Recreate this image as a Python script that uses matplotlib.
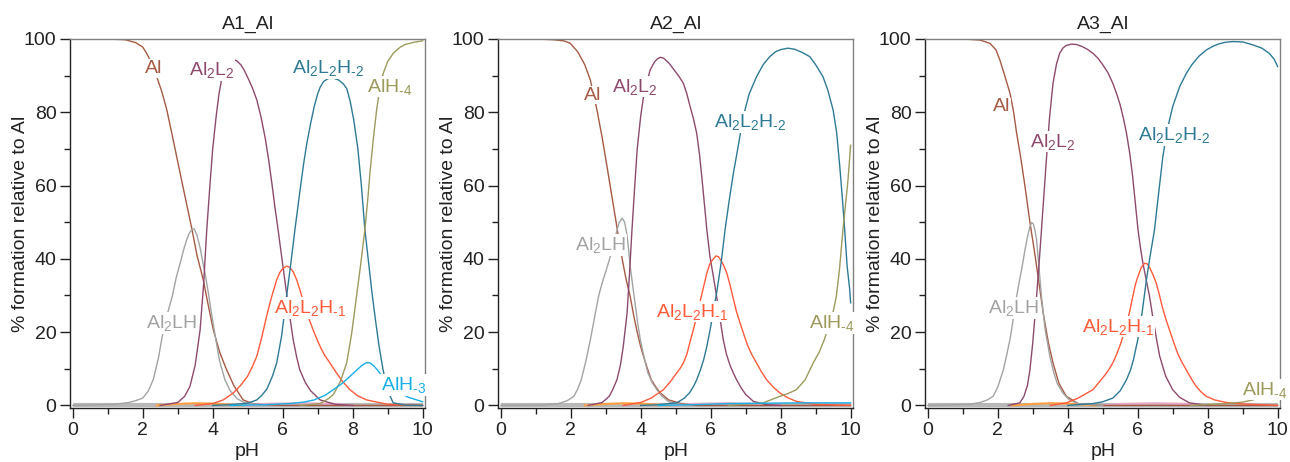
import matplotlib
matplotlib.use("Agg")
import matplotlib.pyplot as plt
from matplotlib.ticker import MultipleLocator

plt.rcParams['font.family'] = ['Liberation Sans', 'DejaVu Sans']
plt.rcParams['mathtext.fontset'] = 'custom'
plt.rcParams['mathtext.rm'] = 'Liberation Sans'
plt.rcParams['mathtext.it'] = 'Liberation Sans'
plt.rcParams['mathtext.default'] = 'rm'

titles = ["A1_Al", "A2_Al", "A3_Al"]
xlabel = "pH"
ylabel = "% formation relative to Al"

# ---------------- Panel 1: A1_Al ----------------
p1_Al_x = [0, 1.0, 1.5, 1.8, 2.0, 2.11, 2.25, 2.4, 2.55, 2.69, 2.87, 3.11, 3.4, 3.55, 3.73, 3.88, 4.02, 4.2, 4.4, 4.6, 4.87, 5.2, 6, 10]
p1_Al_y = [100, 100, 99.8, 99, 97.8, 96.1, 93.5, 89.7, 85.5, 80.6, 72.5, 61.5, 48.4, 41, 34.3, 27, 20.6, 14.5, 9.7, 5.5, 1.5, 0.3, 0, 0]
p1_Al2LH_x = [0, 1.2, 1.6, 1.8, 2.0, 2.15, 2.3, 2.45, 2.59, 2.72, 2.85, 2.96, 3.07, 3.17, 3.25, 3.33, 3.4, 3.47, 3.55, 3.64, 3.72, 3.8, 3.88, 3.95, 4.08, 4.2, 4.35, 4.5, 4.7, 4.9, 5.5]
p1_Al2LH_y = [0, 0.3, 0.8, 1.3, 2, 3.8, 7, 13, 20.6, 25.5, 30, 35, 38.8, 42.5, 45, 47, 48, 48.2, 46.5, 43, 39, 35, 30.5, 26, 18.5, 12, 7, 4, 1.8, 0.8, 0]
p1_Al2L2_x = [2.5, 3.0, 3.2, 3.35, 3.5, 3.64, 3.74, 3.83, 3.92, 4.0, 4.1, 4.18, 4.26, 4.35, 4.45, 4.52, 4.59, 4.68, 4.8, 4.9, 5.0, 5.13, 5.26, 5.38, 5.5, 5.6, 5.7, 5.78, 5.87, 6.0, 6.11, 6.2, 6.3, 6.4, 6.49, 6.65, 6.8, 7.07, 7.5, 8]
p1_Al2L2_y = [0, 0.8, 2.5, 5.2, 11, 20.6, 33, 47.9, 60, 70, 79, 85, 89.3, 91.8, 93.3, 94, 94.3, 94.1, 93, 91.5, 89.5, 86.8, 83.4, 78.8, 73, 67, 60, 54, 47.9, 38.5, 30.7, 24.5, 18, 13.2, 9.7, 6.2, 4, 1.5, 0.3, 0]
p1_Al2L2H1_x = [3.5, 4.0, 4.3, 4.59, 4.8, 5.0, 5.13, 5.26, 5.4, 5.54, 5.68, 5.83, 5.92, 6.0, 6.11, 6.2, 6.3, 6.4, 6.5, 6.6, 6.73, 6.87, 7.0, 7.1, 7.2, 7.35, 7.5, 7.7, 7.92, 8.15, 8.4, 9.0, 10]
p1_Al2L2H1_y = [0, 0.5, 1.5, 3.4, 5.5, 8, 10.5, 13.4, 18.5, 24.3, 29.5, 34.3, 36.3, 37.3, 38, 37.7, 36.5, 34.3, 31.3, 28, 24.2, 20.6, 17.6, 15.5, 13.7, 11.6, 9.4, 6.7, 4.3, 2.6, 1.5, 0.3, 0]
p1_Al2L2H2_x = [4.0, 4.5, 5.0, 5.26, 5.4, 5.55, 5.7, 5.83, 5.97, 6.11, 6.23, 6.35, 6.5, 6.6, 6.69, 6.8, 6.9, 7.0, 7.07, 7.17, 7.3, 7.45, 7.6, 7.73, 7.83, 7.93, 8.03, 8.15, 8.25, 8.35, 8.45, 8.55, 8.65, 8.75, 8.87, 9.0, 9.16, 9.5, 10]
p1_Al2L2H2_y = [0, 0.2, 0.6, 1.5, 2.7, 4.5, 7.8, 11.6, 19, 29.7, 38.5, 47.9, 59, 66, 71.5, 77, 81.5, 85, 86.8, 88.4, 89.2, 89.3, 88.8, 87.8, 86.5, 83, 78, 70, 60, 48, 39.5, 31, 23.5, 16.5, 9.7, 4, 0.7, 0.1, 0]
p1_AlH4_x = [6.5, 7.07, 7.3, 7.45, 7.65, 7.83, 7.97, 8.11, 8.23, 8.35, 8.43, 8.5, 8.6, 8.69, 8.78, 8.87, 9.0, 9.16, 9.35, 9.5, 9.75, 10]
p1_AlH4_y = [0, 0.5, 1.8, 3, 6.5, 11.6, 19.5, 29.7, 38.5, 48, 56, 64, 73.5, 81, 86.5, 90.5, 93.8, 96.1, 97.7, 98.5, 99.1, 99.5]
p1_AlH3_x = [4.5, 5.5, 6.2, 6.6, 6.9, 7.2, 7.45, 7.7, 7.92, 8.1, 8.25, 8.4, 8.5, 8.6, 8.7, 8.78, 8.9, 9.0, 9.15, 9.35, 9.6, 10]
p1_AlH3_y = [0, 0.2, 0.5, 0.9, 1.5, 2.7, 4.3, 6, 7.9, 9.5, 10.8, 11.7, 11.6, 10.8, 9.8, 8.8, 7.3, 6, 4.6, 3.4, 2.2, 1.0]
p1_minorA_x = [2.4, 3.0, 3.5, 4.0, 4.5, 4.8]
p1_minorA_y = [0, 0.4, 0.6, 0.5, 0.2, 0]
p1_minorB_x = [5.0, 5.5, 6.5, 7.5, 8.0]
p1_minorB_y = [0, 0.4, 0.6, 0.4, 0]

# ---------------- Panel 2: A2_Al ----------------
p2_Al_x = [0, 1.0, 1.5, 1.8, 1.99, 2.2, 2.4, 2.56, 2.75, 2.9, 3.04, 3.16, 3.28, 3.38, 3.47, 3.58, 3.70, 3.8, 3.9, 4.0, 4.08, 4.2, 4.3, 4.45, 4.56, 4.8, 5.2, 5.6, 10]
p2_Al_y = [100, 100, 99.8, 99.5, 98.8, 96.5, 93, 88.8, 80.6, 73, 65, 58, 51, 45, 40, 34.5, 29.7, 24.5, 20, 16, 13.4, 9.8, 7, 4.8, 3.4, 1.5, 0.4, 0, 0]
p2_Al2LH_x = [0, 1.2, 1.65, 1.9, 2.09, 2.2, 2.3, 2.43, 2.56, 2.68, 2.8, 2.9, 3.0, 3.13, 3.22, 3.3, 3.38, 3.47, 3.54, 3.6, 3.65, 3.70, 3.78, 3.85, 3.92, 3.99, 4.1, 4.2, 4.33, 4.46, 4.6, 4.8, 5.3]
p2_Al2LH_y = [0, 0.1, 0.5, 1.3, 2.5, 4.5, 7, 12, 17.9, 24, 30, 33.5, 36.5, 40.6, 43.5, 47, 49.8, 51.1, 50, 47, 43, 38, 32, 27, 22, 17.9, 13, 9, 6.2, 4.3, 2.6, 1, 0]
p2_Al2L2_x = [2.5, 2.9, 3.1, 3.2, 3.32, 3.42, 3.5, 3.61, 3.68, 3.75, 3.83, 3.9, 4.0, 4.08, 4.18, 4.27, 4.35, 4.4, 4.48, 4.56, 4.65, 4.8, 5.0, 5.1, 5.22, 5.32, 5.4, 5.5, 5.6, 5.68, 5.75, 5.82, 5.89, 5.98, 6.08, 6.17, 6.27, 6.36, 6.45, 6.55, 6.65, 6.74, 6.87, 7.0, 7.22, 7.6, 8]
p2_Al2L2_y = [0, 0.8, 2.5, 4.3, 7, 11, 16, 25.2, 36, 47.9, 60, 70, 79, 84.3, 88.5, 91.5, 93, 93.8, 94.6, 95, 94.8, 93.5, 91, 89.7, 87.9, 85, 82, 78.5, 74.3, 68.5, 62, 55, 47.9, 40.6, 35, 29.7, 23.5, 17.9, 14, 11, 8.8, 7, 4.8, 3, 1.1, 0.2, 0]
p2_Al2L2H1_x = [3.5, 4.0, 4.3, 4.65, 4.85, 5.0, 5.12, 5.22, 5.32, 5.4, 5.5, 5.6, 5.7, 5.8, 5.89, 5.97, 6.05, 6.15, 6.22, 6.3, 6.38, 6.46, 6.55, 6.65, 6.74, 6.84, 6.95, 7.05, 7.18, 7.31, 7.45, 7.6, 7.8, 7.98, 8.2, 8.45, 9.0, 10]
p2_Al2L2H1_y = [0, 0.8, 2, 4.3, 6.5, 8.5, 10, 11.6, 14, 17, 20.5, 24.3, 28.5, 32.5, 36.1, 38.5, 39.7, 40.8, 40.6, 39.5, 38, 36.1, 33, 29, 25.5, 22.5, 19.3, 16.5, 13.8, 11.6, 9.2, 7, 4.9, 3.4, 2.1, 1.1, 0.3, 0]
p2_Al2L2H2_x = [4.0, 4.5, 5.03, 5.25, 5.4, 5.51, 5.6, 5.7, 5.8, 5.89, 6.0, 6.1, 6.17, 6.3, 6.41, 6.53, 6.65, 6.8, 6.93, 7.1, 7.31, 7.5, 7.69, 7.85, 8.0, 8.21, 8.4, 8.6, 8.83, 9.0, 9.21, 9.35, 9.5, 9.6, 9.69, 9.76, 9.83, 9.9, 9.97, 10.0]
p2_Al2L2H2_y = [0, 0.2, 0.7, 2, 3.5, 5.2, 7, 9.5, 12.5, 16.1, 21.5, 27, 30.7, 39, 47.9, 56, 63.4, 71.5, 78.8, 85, 89.7, 93, 95.2, 96.5, 97.1, 97.5, 97.2, 96.4, 95.2, 93, 89.7, 86, 80.6, 74.5, 65.2, 57, 47.9, 38, 32, 28]
p2_AlH4_x = [6.5, 7.5, 7.98, 8.2, 8.45, 8.7, 8.93, 9.1, 9.25, 9.4, 9.5, 9.59, 9.68, 9.78, 9.85, 9.92, 10.0]
p2_AlH4_y = [0, 0.7, 2.5, 3.2, 4.3, 7, 11.6, 14.5, 18, 22.5, 25.5, 29.7, 37, 47.9, 54.5, 61, 71]
p2_AlH3_x = [4.5, 5.5, 6.5, 7.5, 8.5, 9.5, 10]
p2_AlH3_y = [0, 0.2, 0.5, 0.6, 0.7, 0.7, 0.7]
p2_minorA_x = [2.4, 3.0, 3.5, 4.0, 4.5, 4.8]
p2_minorA_y = [0, 0.4, 0.6, 0.5, 0.2, 0]
p2_minorB_x = [5.0, 5.5, 6.5, 7.5, 8.0]
p2_minorB_y = [0, 0.4, 0.6, 0.4, 0]

# ---------------- Panel 3: A3_Al ----------------
p3_Al_x = [0, 1.0, 1.5, 1.78, 1.95, 2.06, 2.2, 2.35, 2.45, 2.54, 2.66, 2.78, 2.92, 3.05, 3.2, 3.3, 3.45, 3.58, 3.75, 3.96, 4.3, 5, 10]
p3_Al_y = [100, 100, 99.7, 98.8, 97, 94.3, 90, 85.2, 80.3, 74.3, 67.5, 59.7, 50, 42, 32, 25.2, 17, 11.6, 6, 2.5, 0.5, 0, 0]
p3_Al2LH_x = [0, 1.2, 1.5, 1.7, 1.87, 2.0, 2.16, 2.25, 2.35, 2.45, 2.54, 2.62, 2.7, 2.78, 2.85, 2.92, 2.97, 3.02, 3.07, 3.11, 3.18, 3.25, 3.35, 3.49, 3.6, 3.7, 3.86, 4.05, 4.3, 5]
p3_Al2LH_y = [0, 0.3, 0.8, 1.5, 2.5, 5, 9.7, 13.5, 18, 24, 29.7, 34, 38, 42.5, 46, 48.8, 49.9, 49.5, 47.5, 45.2, 37.5, 29.7, 21, 13.4, 9, 6, 3.4, 1.5, 0.5, 0]
p3_Al2L2_x = [2.3, 2.63, 2.75, 2.85, 2.92, 3.0, 3.11, 3.18, 3.25, 3.32, 3.39, 3.48, 3.58, 3.68, 3.77, 3.86, 3.95, 4.11, 4.25, 4.4, 4.56, 4.72, 4.86, 5.0, 5.15, 5.29, 5.4, 5.5, 5.6, 5.68, 5.77, 5.85, 5.93, 6.01, 6.08, 6.15, 6.25, 6.34, 6.45, 6.55, 6.63, 6.8, 7.0, 7.2, 7.48, 8]
p3_Al2L2_y = [0, 0.7, 2.5, 5.5, 9.7, 17, 29.7, 38.5, 47.9, 57.5, 67, 78.5, 87.9, 93.2, 96.1, 97.5, 98.2, 98.6, 98.5, 98, 97.2, 96.1, 94.8, 93, 90.8, 87.9, 85, 82, 78, 74.3, 69, 63, 55.5, 47.9, 43, 38.8, 34, 29.7, 23, 17.5, 13.4, 8, 4.3, 2.2, 0.7, 0]
p3_Al2L2H1_x = [3.5, 3.96, 4.3, 4.72, 5.0, 5.15, 5.29, 5.4, 5.5, 5.6, 5.68, 5.78, 5.86, 5.93, 6.0, 6.1, 6.2, 6.28, 6.35, 6.44, 6.53, 6.62, 6.7, 6.8, 6.91, 7.03, 7.15, 7.27, 7.39, 7.52, 7.65, 7.8, 7.96, 8.2, 8.53, 9.0, 10]
p3_Al2L2H1_y = [0, 0.7, 2, 4.3, 7.5, 9.4, 11.6, 14, 16.5, 19.5, 22, 26, 29.7, 32.8, 35, 37.6, 38.8, 38.6, 37.5, 35.6, 33.4, 30.2, 27, 23.7, 20.6, 17.2, 14, 11.7, 9.7, 7.5, 5.5, 3.8, 2.5, 1.5, 0.8, 0.4, 0]
p3_Al2L2H2_x = [4.0, 4.72, 5.0, 5.29, 5.5, 5.68, 5.8, 5.88, 5.97, 6.06, 6.15, 6.25, 6.36, 6.48, 6.6, 6.72, 6.85, 7.0, 7.2, 7.39, 7.55, 7.75, 7.96, 8.15, 8.3, 8.5, 8.72, 9.0, 9.29, 9.55, 9.76, 9.9, 10]
p3_Al2L2H2_y = [0, 0.5, 1, 2, 4, 7, 9.8, 12.5, 16.5, 20.6, 27, 34.3, 41, 47.9, 58, 67.9, 75.5, 81.5, 87, 90.6, 93, 95.3, 97, 98, 98.6, 99.1, 99.3, 99.2, 98.4, 97.5, 96.1, 94.5, 92.5]
p3_AlH4_x = [7.5, 8.53, 9.0, 9.29, 9.6, 10]
p3_AlH4_y = [0, 0.5, 0.9, 1.5, 2.8, 4.5]
p3_minorA_x = [2.4, 3.0, 3.5, 4.0, 4.5, 4.8]
p3_minorA_y = [0, 0.4, 0.6, 0.5, 0.2, 0]
p3_minorB_x = [5.0, 5.5, 6.5, 7.5, 8.0]
p3_minorB_y = [0, 0.4, 0.6, 0.4, 0]

names = {
    'Al': 'Al',
    'Al2LH': r'Al$_2$LH',
    'Al2L2': r'Al$_2$L$_2$',
    'Al2L2H1': r'Al$_2$L$_2$H$_{‐1}$',
    'Al2L2H2': r'Al$_2$L$_2$H$_{‐2}$',
    'AlH4': r'AlH$_{‐4}$',
    'AlH3': r'AlH$_{‐3}$',
}
colors = {
    'Al': '#a65a43',
    'Al2LH': '#a3a3a3',
    'Al2L2': '#8e4a6e',
    'Al2L2H1': '#ff5a3a',
    'Al2L2H2': '#2e7a96',
    'AlH4': '#9c9a5c',
    'AlH3': '#18aee6',
    'minorA': '#ffa040',
    'minorB': '#e8a8c8',
}

panels = [
    {'Al': (p1_Al_x, p1_Al_y), 'Al2LH': (p1_Al2LH_x, p1_Al2LH_y), 'Al2L2': (p1_Al2L2_x, p1_Al2L2_y),
     'Al2L2H1': (p1_Al2L2H1_x, p1_Al2L2H1_y), 'Al2L2H2': (p1_Al2L2H2_x, p1_Al2L2H2_y),
     'AlH4': (p1_AlH4_x, p1_AlH4_y), 'AlH3': (p1_AlH3_x, p1_AlH3_y),
     'minorA': (p1_minorA_x, p1_minorA_y), 'minorB': (p1_minorB_x, p1_minorB_y)},
    {'Al': (p2_Al_x, p2_Al_y), 'Al2LH': (p2_Al2LH_x, p2_Al2LH_y), 'Al2L2': (p2_Al2L2_x, p2_Al2L2_y),
     'Al2L2H1': (p2_Al2L2H1_x, p2_Al2L2H1_y), 'Al2L2H2': (p2_Al2L2H2_x, p2_Al2L2H2_y),
     'AlH4': (p2_AlH4_x, p2_AlH4_y), 'AlH3': (p2_AlH3_x, p2_AlH3_y),
     'minorA': (p2_minorA_x, p2_minorA_y), 'minorB': (p2_minorB_x, p2_minorB_y)},
    {'Al': (p3_Al_x, p3_Al_y), 'Al2LH': (p3_Al2LH_x, p3_Al2LH_y), 'Al2L2': (p3_Al2L2_x, p3_Al2L2_y),
     'Al2L2H1': (p3_Al2L2H1_x, p3_Al2L2H1_y), 'Al2L2H2': (p3_Al2L2H2_x, p3_Al2L2H2_y),
     'AlH4': (p3_AlH4_x, p3_AlH4_y),
     'minorA': (p3_minorA_x, p3_minorA_y), 'minorB': (p3_minorB_x, p3_minorB_y)},
]

label_pos = [
    {'Al': (2.3, 92), 'Al2L2': (3.97, 91.5), 'Al2L2H2': (7.3, 92), 'AlH4': (9.07, 87),
     'Al2LH': (2.83, 22.5), 'Al2L2H1': (6.78, 26.6), 'AlH3': (9.45, 5.6)},
    {'Al': (2.63, 84.7), 'Al2L2': (3.82, 87), 'Al2L2H2': (7.12, 77.4), 'Al2LH': (2.85, 43.8),
     'Al2L2H1': (5.46, 25.6), 'AlH4': (9.45, 22.5)},
    {'Al': (2.11, 81.5), 'Al2L2': (3.58, 72), 'Al2L2H2': (7.05, 73.8), 'Al2LH': (2.44, 26.6),
     'Al2L2H1': (5.44, 21.5), 'AlH4': (9.62, 4.3)},
]

fig = plt.figure(figsize=(12.9, 4.62), dpi=100)
lefts = [0.0545, 0.3863, 0.7173]
width = 0.275
bottom = 0.1169
height = 0.7987

order = ['Al', 'Al2LH', 'Al2L2', 'Al2L2H1', 'Al2L2H2', 'AlH4', 'AlH3']
for i in range(3):
    ax = fig.add_axes([lefts[i], bottom, width, height])
    ax.plot([0, 10], [0, 0], color='#b8b8b8', lw=3, zorder=1, solid_capstyle='butt')
    for k in ['minorA', 'minorB']:
        xs, ys = panels[i][k]
        ax.plot(xs, ys, color=colors[k], lw=1.5, zorder=1.5)
    for k in order:
        if k in panels[i]:
            xs, ys = panels[i][k]
            ax.plot(xs, ys, color=colors[k], lw=1.0, zorder=2)
    for k, (lx, ly) in label_pos[i].items():
        ax.text(lx, ly, names[k], color=colors[k], fontsize=14, ha='center', va='center',
                zorder=5, bbox=dict(facecolor='white', edgecolor='none', pad=0.5))
    ax.set_xlim(-0.07, 10.07)
    ax.set_ylim(-0.7, 100)
    ax.xaxis.set_major_locator(MultipleLocator(2))
    ax.xaxis.set_minor_locator(MultipleLocator(1))
    ax.yaxis.set_major_locator(MultipleLocator(20))
    ax.yaxis.set_minor_locator(MultipleLocator(10))
    ax.tick_params(which='major', direction='out', length=7, width=1, colors='#222222', labelsize=14, pad=3)
    ax.tick_params(which='minor', direction='out', length=4, width=1, colors='#222222')
    for s in ['left', 'bottom']:
        ax.spines[s].set_color('#222222')
        ax.spines[s].set_linewidth(1.0)
    for s in ['top', 'right']:
        ax.spines[s].set_color('#808080')
        ax.spines[s].set_linewidth(1.0)
    ax.set_title(titles[i], fontsize=14, pad=7, color='#222222')
    ax.set_xlabel(xlabel, fontsize=14, labelpad=3, color='#222222')
    ax.set_ylabel(ylabel, fontsize=14, color='#222222')
    ax.yaxis.set_label_coords(-0.116, 0.5)

fig.savefig('out.png', dpi=100)
